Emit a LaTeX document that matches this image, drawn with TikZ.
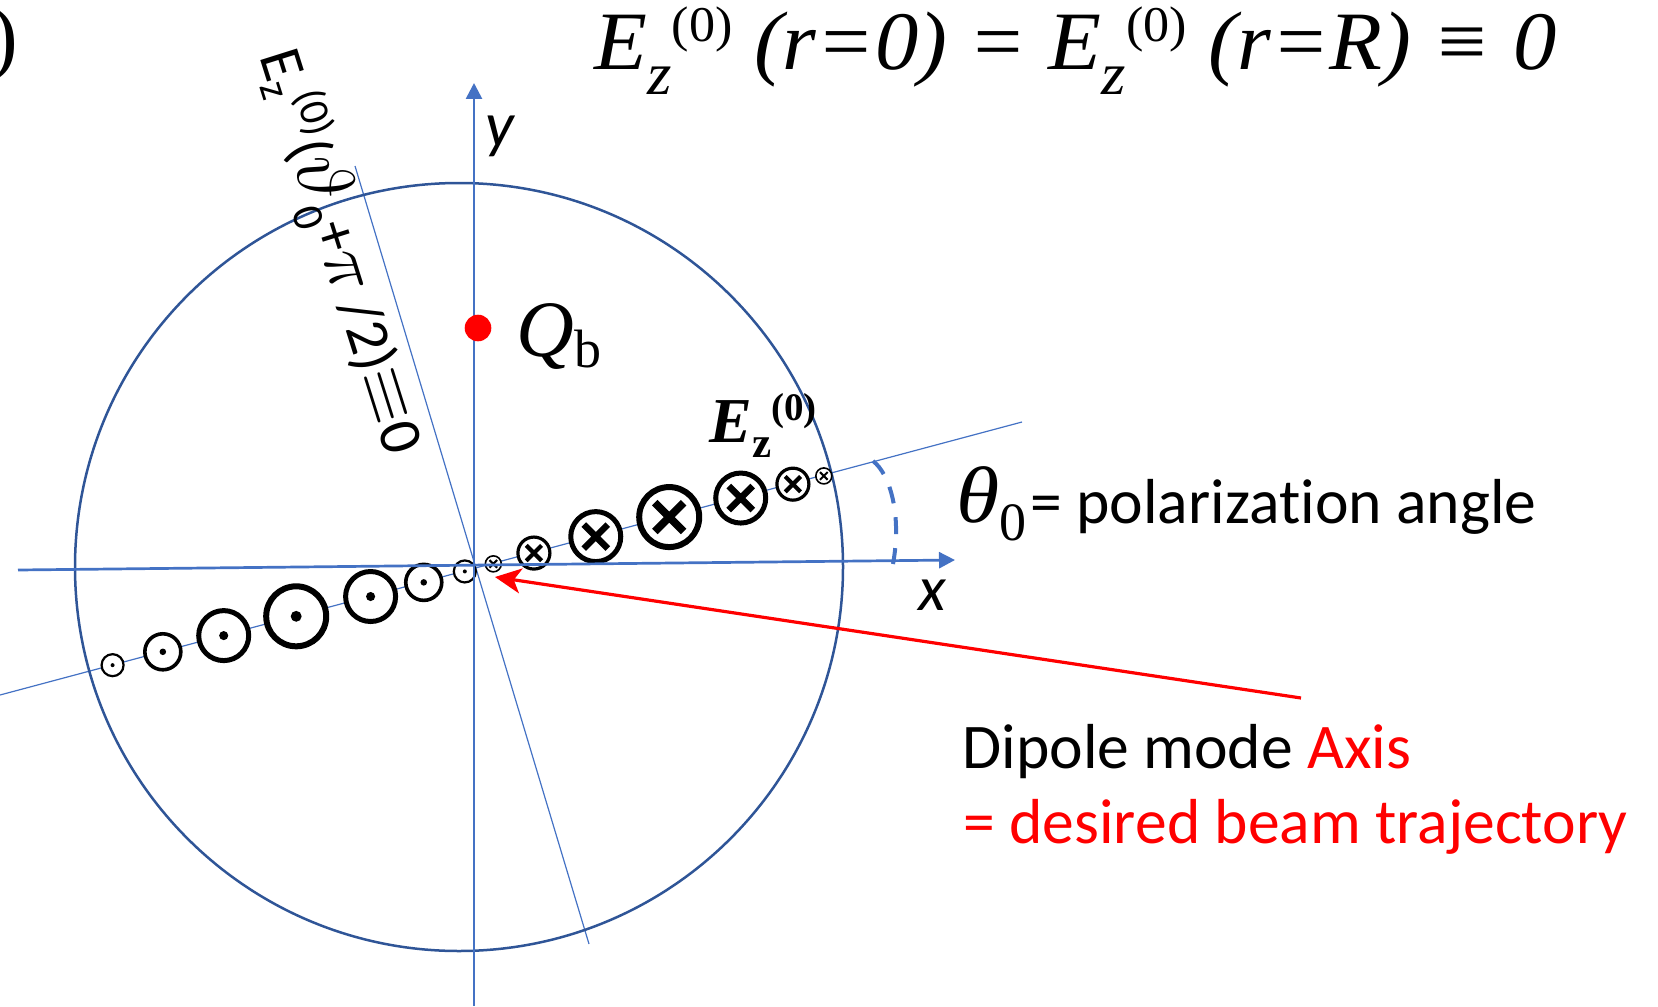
\RequirePackage{fix-cm}
\documentclass[tikz,border=0pt]{standalone}
\usepackage{fontspec}
\setmainfont{Carlito}[Ligatures=NoCommon]
\newfontfamily\timesfont{Liberation Serif}
\usetikzlibrary{arrows.meta}
\definecolor{axisblue}{RGB}{68,114,196}
\definecolor{rimblue}{RGB}{47,85,151}
\definecolor{beamred}{RGB}{255,0,0}
\newcommand{\ezfield}{E\raisebox{-12.5pt}{\fontsize{30pt}{30pt}\selectfont z}\raisebox{14pt}{\fontsize{25pt}{25pt}\selectfont\upshape(0)}}

\begin{document}
\begin{tikzpicture}[x=0.5pt,y=-0.5pt,
  axis/.style={axisblue,line width=1.35pt,-{Triangle[length=8pt,width=8pt]}},
  guide/.style={axisblue,line width=0.6pt},
  txt/.style={inner sep=0pt,font=\fontsize{31.8pt}{37.5pt}\selectfont}]
\useasboundingbox (0,0) rectangle (1658,1006);
\draw[guide] (0,695) -- (1022,422);
\draw[guide] (355,166) -- (589,944);
\draw[rimblue,line width=1.25pt] (459,567) circle[radius=384];
\foreach \d/\r in {20/8,62/16,126/25,202/30,276/25,330/16,362/8} {
  \pgfmathsetmacro{\cx}{474+\d*cos(14.9)}
  \pgfmathsetmacro{\cy}{569-\d*sin(14.9)}
  \pgfmathsetmacro{\arm}{0.48*\r}
  \pgfmathsetmacro{\lw}{\r/10}
  \draw[line width=\lw pt, fill=white] (\cx,\cy) circle[radius=\r];
  \draw[line width=1.3*\lw pt] (\cx-\arm,\cy-\arm) -- (\cx+\arm,\cy+\arm)
    (\cx-\arm,\cy+\arm) -- (\cx+\arm,\cy-\arm);
}
\foreach \d/\r in {9.5/11,52/18,107/25,184/30,259/25,322/18,374/11} {
  \pgfmathsetmacro{\cx}{474-\d*cos(14.9)}
  \pgfmathsetmacro{\cy}{569+\d*sin(14.9)}
  \pgfmathsetmacro{\lw}{\r/10}
  \draw[line width=\lw pt, fill=white] (\cx,\cy) circle[radius=\r];
  \fill (\cx,\cy) circle[radius=\r/5.5];
}
\draw[axis] (18,570) -- (955,560);
\draw[axis] (474,1006) -- (474,83);
\draw[axisblue,line width=2pt,dash pattern=on 8.5pt off 7pt] (873,461) .. controls (890,474) and (902,515) .. (893,564);
\node (charge) [circle,fill=beamred,inner sep=0pt,minimum size=13.3pt] at (478,328) {};
\node (qb) [anchor=base west,inner sep=0pt] at (516,356)
  {\timesfont\fontsize{40pt}{48pt}\selectfont\itshape Q\upshape\raisebox{-5.5pt}{\fontsize{27pt}{27pt}\selectfont b}};
\node (ylabel) [txt,anchor=base,font=\fontsize{32pt}{38pt}\selectfont\itshape] at (500,147) {y};
\node (xlabel) [txt,anchor=base,font=\fontsize{32pt}{38pt}\selectfont\itshape] at (932,610) {x};
\node (fieldzero) [anchor=base west,inner sep=0pt] at (594,70)
  {\resizebox{481pt}{\height}{\timesfont\fontsize{41.5pt}{50pt}\selectfont\itshape \ezfield\ (r=0) = \ezfield\ (r=R) ≡ 0}};
\node (cut) [anchor=base east,inner sep=0pt] at (19,65) {\timesfont\fontsize{41.5pt}{50pt}\selectfont )};
\node (nodal) [txt,rotate=-72.5,font=\fontsize{30pt}{36pt}\selectfont] at (341,251)
  {E\textsubscript{z}\textsuperscript{(0)}(\scalebox{1.3}{$\vartheta$}\raisebox{-8pt}{\fontsize{22pt}{22pt}\selectfont 0}+\scalebox{1.2}{$\pi$}\,/2)\scalebox{1.2}{$\equiv$}0};
\node (ezlabel) [anchor=base west,inner sep=0pt] at (709,442)
  {\timesfont\bfseries\fontsize{32pt}{38pt}\selectfont\itshape E\upshape\raisebox{-7.5pt}{\fontsize{21.5pt}{22pt}\selectfont z}\raisebox{11pt}{\fontsize{19.5pt}{20pt}\selectfont (0)}};
\node (theta) [anchor=base west,inner sep=0pt] at (956,522)
  {\timesfont\fontsize{40pt}{46pt}\selectfont\itshape\scalebox{1.1}[1]{θ}\upshape\raisebox{-9pt}{\fontsize{27pt}{27pt}\selectfont 0}};
\node (polar) [txt,anchor=base west] at (1030,523) {= polarization angle};
\node (dipole) [txt,anchor=base west] at (962,768) {Dipole mode \textcolor{beamred}{Axis}};
\node (beam) [txt,anchor=base west,text=beamred] at (963,843) {= desired beam trajectory};
\coordinate (tail) at (1301,698);
\coordinate (tip) at (495,577);
\draw[beamred,line width=1.6pt,-{Stealth[length=13pt,width=12.5pt,inset=3.5pt]}] (tail) -- (tip);
\end{tikzpicture}
\end{document}
